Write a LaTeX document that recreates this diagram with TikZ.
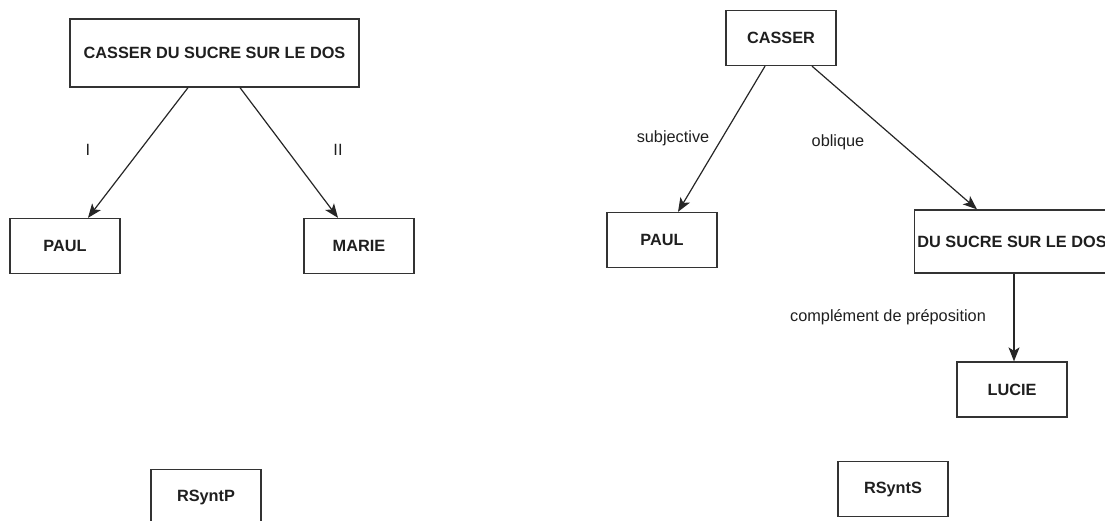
\documentclass[tikz,border=0pt]{standalone}
\usepackage{fontspec}
\setmainfont{Liberation Sans}
\usetikzlibrary{arrows.meta}
\begin{document}
\begin{tikzpicture}[x=1pt,y=-1pt,
  box/.style={draw=black!80,line width=1.3pt,rectangle,inner sep=0pt,
    minimum width=110pt,minimum height=55pt,text=black!88,
    font=\fontsize{16.3}{19}\selectfont\bfseries},
  arr/.style={draw=black!85,line width=1.2pt,-{Stealth[length=14pt,width=11pt,inset=3.5pt]}},
  lab/.style={inner sep=0pt,text=black!88,font=\fontsize{16.3}{19}\selectfont}
]
\useasboundingbox (0,0) rectangle (1105,520);
\clip (0,0) rectangle (1105,520);

% surface-syntactic side (left)
\node[box,minimum width=289pt,minimum height=68pt] (top) at (214.5,53) {CASSER DU SUCRE SUR LE DOS};
\node[box] (pl) at (65,246) {PAUL};
\node[box] (ma) at (359,246) {MARIE};
\node[box] (rp) at (206,497) {RSyntP};

\draw[arr] ([xshift=-26.5pt]top.south) -- ([xshift=23pt]pl.north);
\draw[arr] ([xshift=25.5pt]top.south) -- ([xshift=-21pt]ma.north);
\node[lab] (li) at (88,150) {I};
\node[lab] (lii) at (338,150) {II};

% deep-syntactic side (right)
\node[box] (ca) at (781,38) {CASSER};
\node[box] (pr) at (662,240) {PAUL};
\node[box,minimum width=195pt,minimum height=63pt] (ds) at (1012,241.5) {DU SUCRE SUR LE DOS};
\node[box] (lu) at (1012,389.5) {LUCIE};
\node[box] (rs) at (893,489) {RSyntS};

\draw[arr] ([xshift=-16pt]ca.south) -- ([xshift=16pt]pr.north);
\draw[arr] ([xshift=31pt]ca.south) -- ([xshift=-35pt]ds.north);
\draw[arr] ([xshift=2pt]ds.south) -- ([xshift=2pt]lu.north);
\node[lab] (ls) at (673,138) {subjective};
\node[lab] (lo) at (838,142) {oblique};
\node[lab] (lc) at (888,317) {complément de préposition};
\end{tikzpicture}
\end{document}
